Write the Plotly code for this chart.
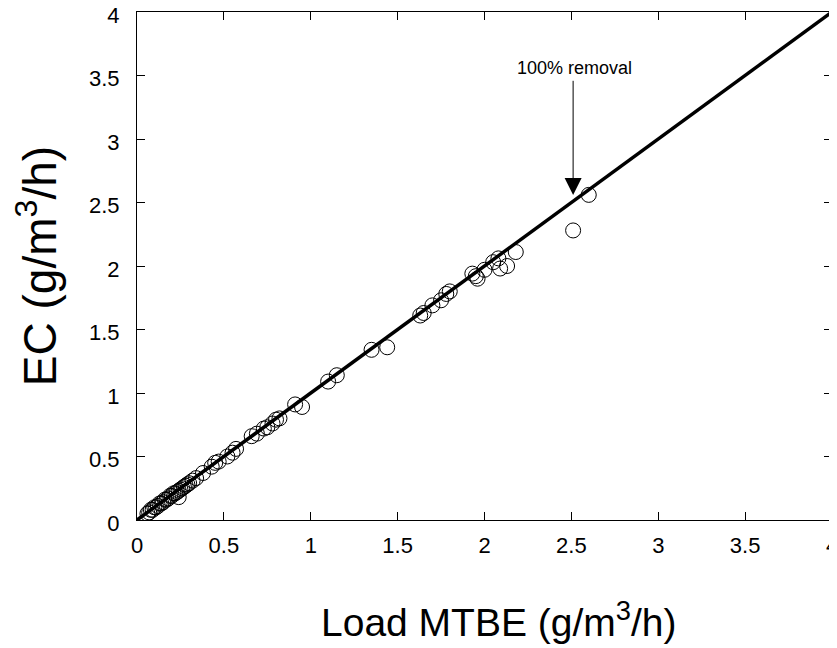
import plotly.graph_objects as go

load_mtbe = [0.06, 0.07, 0.08, 0.09, 0.10, 0.11, 0.12, 0.13, 0.14, 0.15, 0.16, 0.17, 0.18,
             0.19, 0.20, 0.21, 0.22, 0.23, 0.24, 0.25, 0.26, 0.27, 0.28, 0.29, 0.30, 0.32,
             0.34, 0.24, 0.38, 0.43, 0.45, 0.47, 0.52, 0.55, 0.57, 0.66, 0.69, 0.73, 0.75,
             0.78, 0.80, 0.82, 0.91, 0.95, 1.10, 1.15, 1.35, 1.44, 1.63, 1.65, 1.70, 1.75,
             1.78, 1.80, 1.93, 1.95, 1.96, 2.00, 2.05, 2.08, 2.09, 2.13, 2.18, 2.51, 2.60]
ec = [0.05, 0.06, 0.08, 0.08, 0.10, 0.10, 0.11, 0.13, 0.13, 0.14, 0.16, 0.16, 0.17,
      0.19, 0.19, 0.21, 0.21, 0.22, 0.23, 0.24, 0.25, 0.26, 0.27, 0.28, 0.29, 0.31,
      0.33, 0.18, 0.37, 0.42, 0.45, 0.46, 0.50, 0.53, 0.56, 0.66, 0.68, 0.72, 0.73,
      0.76, 0.79, 0.80, 0.91, 0.89, 1.09, 1.14, 1.34, 1.36, 1.61, 1.63, 1.69, 1.73,
      1.78, 1.80, 1.94, 1.92, 1.90, 1.97, 2.03, 2.06, 1.98, 2.00, 2.11, 2.28, 2.56]
line_x = [0, 4]
line_y = [0, 4]
tick_vals = [0, 0.5, 1, 1.5, 2, 2.5, 3, 3.5, 4]
tick_text = ["0", "0.5", "1", "1.5", "2", "2.5", "3", "3.5", "4"]
x_title = "Load MTBE (g/m<sup>3</sup>/h)"
y_title = "EC (g/m<sup>3</sup>/h)"

FONT = "Liberation Sans, Arial, sans-serif"

fig = go.Figure()
fig.add_trace(go.Scatter(x=load_mtbe, y=ec, mode="markers",
                         marker=dict(symbol="circle-open", size=15,
                                     color="black", line=dict(width=1)),
                         showlegend=False))
fig.add_trace(go.Scatter(x=line_x, y=line_y, mode="lines",
                         line=dict(color="black", width=3.5), showlegend=False))

fig.add_annotation(x=2.52, y=3.56, xref="x", yref="y", text="100% removal",
                   showarrow=False, font=dict(family=FONT, size=18, color="black"))
fig.add_annotation(x=2.51, y=2.56, ax=2.51, ay=3.47, xref="x", yref="y",
                   axref="x", ayref="y", text="", showarrow=True,
                   arrowhead=2, arrowsize=3.4, arrowwidth=1, arrowcolor="black")
fig.add_annotation(x=0.52, y=-0.195, xref="paper", yref="paper", text=x_title,
                   showarrow=False, xanchor="center", yanchor="middle",
                   font=dict(family=FONT, size=39, color="black"))

axis_common = dict(range=[0, 4], tickvals=tick_vals, ticktext=tick_text,
                   ticks="inside", ticklen=8, tickwidth=1, tickcolor="black",
                   showline=True, linecolor="black", linewidth=1, mirror="ticks",
                   showgrid=False, zeroline=False, ticklabeloverflow="allow",
                   automargin=False)

fig.update_layout(
    width=829, height=640,
    margin=dict(l=129, r=5, t=4, b=128, autoexpand=False),
    plot_bgcolor="white", paper_bgcolor="white",
    xaxis=dict(**axis_common, ticklabelstandoff=6,
               tickfont=dict(family=FONT, size=22, color="black")),
    yaxis=dict(**axis_common, ticklabelstandoff=12, ticklabelshift=3,
               tickfont=dict(family=FONT, size=22, color="black"),
               title=dict(text=y_title, standoff=18,
                          font=dict(family=FONT, size=46, color="black"))),
)

fig.write_html("out.html")
